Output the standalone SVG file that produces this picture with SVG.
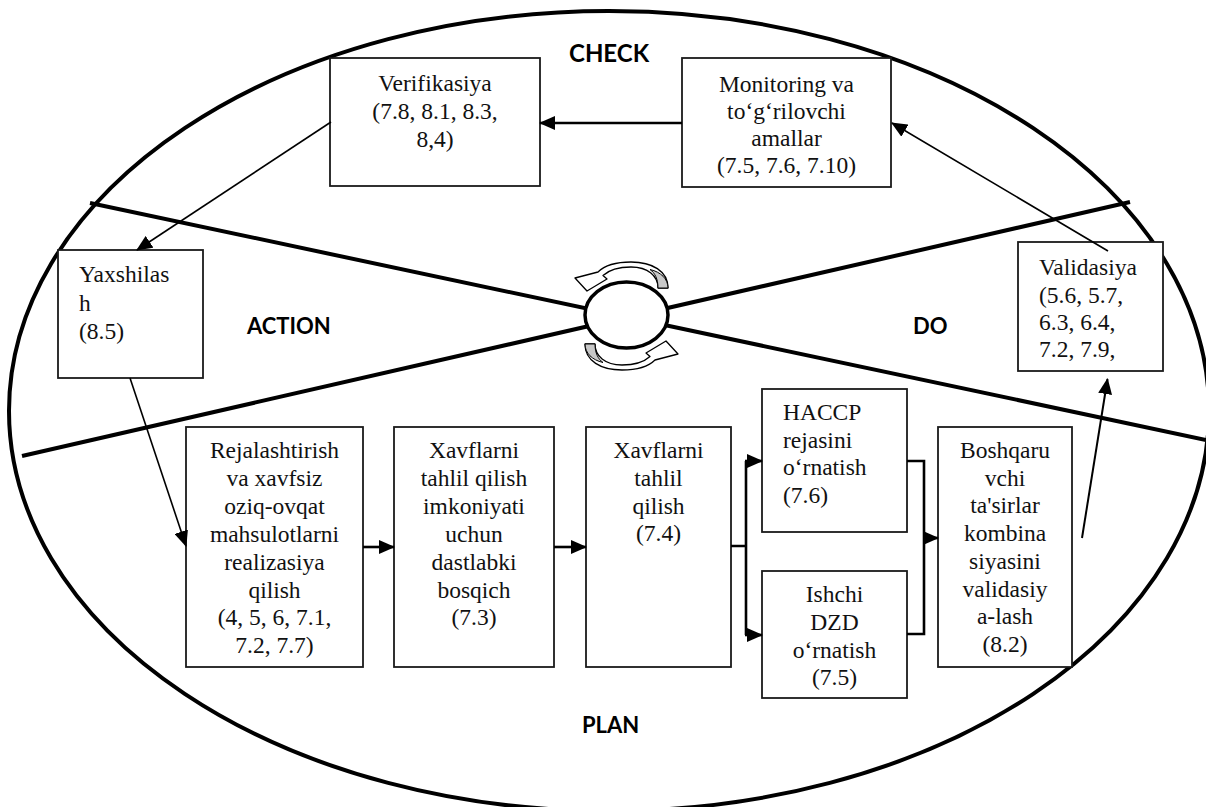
<svg xmlns="http://www.w3.org/2000/svg" xmlns:xlink="http://www.w3.org/1999/xlink" width="1206" height="807" viewBox="0 0 1206 807">
<style>
  .box { fill: #fff; stroke: #1a1a1a; stroke-width: 1.8; }
  .nodetext { font-family: 'Liberation Serif'; font-size: 23.5px; fill: #111; }
  .mid { text-anchor: middle; }
  .lab { font-family: Lato; font-weight: bold; font-size: 22px; fill: #000; }
  .thick { stroke: #000; stroke-width: 2.6; fill: none; }
  .thin { stroke: #000; stroke-width: 1.6; fill: none; }
  .frame { stroke: #000; stroke-width: 4; fill: none; }
</style>
<defs>
  <marker id="ah" viewBox="0 0 16 14" refX="15" refY="7" markerWidth="16" markerHeight="14" markerUnits="userSpaceOnUse" orient="auto">
    <path d="M0,0 L16,7 L0,14 z" fill="#000"/>
  </marker>
  <g id="carrow">
    <path d="M668,288 C668,271 652,262 631,262 C615,262 604,266 598,272 L575,278 L587,291 L607,279 L603,275.5 C609,270 619,267 631,267 C648,267 658,276 658,288 Z" fill="#fff" stroke="#000" stroke-width="1.3" stroke-linejoin="round"/>
    <path d="M658,288 C658,279 655,273 650,269.5 C661,272 668,279 668,288 Z" fill="#c8c8c8" stroke="#000" stroke-width="1"/>
  </g>
</defs>
<rect width="1206" height="807" fill="#fff"/>

<g id="cycle">
  <ellipse class="frame" cx="609" cy="411" rx="600" ry="400"/>
  <line class="frame" x1="90" y1="203" x2="1206" y2="440"/>
  <line class="frame" x1="22" y1="456" x2="1130" y2="202"/>
  <ellipse cx="626.5" cy="315" rx="41.5" ry="33" fill="#fff" stroke="#000" stroke-width="3.5"/>
  <use xlink:href="#carrow" href="#carrow"/>
  <use xlink:href="#carrow" href="#carrow" transform="rotate(180 626.5 316)"/>
  <text class="lab" x="569" y="62" style="font-size:24px">CHECK</text>
  <text class="lab" x="247" y="334">ACTION</text>
  <text class="lab" x="913" y="334">DO</text>
  <text class="lab" x="582" y="733">PLAN</text>
</g>

<g id="node-verifikasiya">
  <rect class="box" x="330" y="58" width="210" height="128"/>
  <text class="nodetext mid" font-family="Liberation Serif"><tspan x="435" y="91">Verifikasiya</tspan><tspan x="435" y="119">(7.8, 8.1, 8.3,</tspan><tspan x="435" y="147">8,4)</tspan></text>
</g>

<g id="node-monitoring">
  <rect class="box" x="682" y="58" width="209" height="129"/>
  <text class="nodetext mid" font-family="Liberation Serif"><tspan x="786.5" y="91.5">Monitoring va</tspan><tspan x="786.5" y="118.8">to‘g‘rilovchi</tspan><tspan x="786.5" y="146">amallar</tspan><tspan x="786.5" y="173.3">(7.5, 7.6, 7.10)</tspan></text>
</g>

<g id="node-yaxshilash">
  <rect class="box" x="58" y="250" width="145" height="128"/>
  <text class="nodetext" font-family="Liberation Serif"><tspan x="79" y="282">Yaxshilas</tspan><tspan x="79" y="310.7">h</tspan><tspan x="79" y="339.3">(8.5)</tspan></text>
</g>

<g id="node-validasiya">
  <rect class="box" x="1018" y="242" width="145" height="129"/>
  <text class="nodetext" font-family="Liberation Serif"><tspan x="1039" y="275">Validasiya</tspan><tspan x="1039" y="302.8">(5.6, 5.7,</tspan><tspan x="1039" y="330">6.3, 6.4,</tspan><tspan x="1039" y="357">7.2, 7.9,</tspan></text>
</g>

<g id="node-rejalashtirish">
  <rect class="box" x="186" y="427" width="177" height="240"/>
  <text class="nodetext mid" font-family="Liberation Serif"><tspan x="274.5" y="458">Rejalashtirish</tspan><tspan x="274.5" y="485.9">va xavfsiz</tspan><tspan x="274.5" y="513.8">oziq-ovqat</tspan><tspan x="274.5" y="541.7">mahsulotlarni</tspan><tspan x="274.5" y="569.6">realizasiya</tspan><tspan x="274.5" y="597.5">qilish</tspan><tspan x="274.5" y="625.4">(4, 5, 6, 7.1,</tspan><tspan x="274.5" y="653.3">7.2, 7.7)</tspan></text>
</g>

<g id="node-dastlabki">
  <rect class="box" x="394" y="427" width="160" height="240"/>
  <text class="nodetext mid" font-family="Liberation Serif"><tspan x="474" y="458">Xavflarni</tspan><tspan x="474" y="485.9">tahlil qilish</tspan><tspan x="474" y="513.8">imkoniyati</tspan><tspan x="474" y="541.7">uchun</tspan><tspan x="474" y="569.6">dastlabki</tspan><tspan x="474" y="597.5">bosqich</tspan><tspan x="474" y="625.4">(7.3)</tspan></text>
</g>

<g id="node-xavf-tahlil">
  <rect class="box" x="586" y="427" width="145" height="240"/>
  <text class="nodetext mid" font-family="Liberation Serif"><tspan x="658.5" y="458.3">Xavflarni</tspan><tspan x="658.5" y="486">tahlil</tspan><tspan x="658.5" y="513.7">qilish</tspan><tspan x="658.5" y="541.4">(7.4)</tspan></text>
</g>

<g id="node-haccp">
  <rect class="box" x="762" y="389" width="145" height="143"/>
  <text class="nodetext" font-family="Liberation Serif"><tspan x="783" y="420">HACCP</tspan><tspan x="783" y="447.7">rejasini</tspan><tspan x="783" y="475.4">o‘rnatish</tspan><tspan x="783" y="503.1">(7.6)</tspan></text>
</g>

<g id="node-ishchi-dzd">
  <rect class="box" x="762" y="571" width="145" height="127"/>
  <text class="nodetext mid" font-family="Liberation Serif"><tspan x="834.5" y="602.3">Ishchi</tspan><tspan x="834.5" y="630">DZD</tspan><tspan x="834.5" y="657.5">o‘rnatish</tspan><tspan x="834.5" y="685">(7.5)</tspan></text>
</g>

<g id="node-boshqaruvchi">
  <rect class="box" x="938" y="427" width="134" height="240"/>
  <text class="nodetext mid" font-family="Liberation Serif"><tspan x="1005" y="458">Boshqaru</tspan><tspan x="1005" y="485.7">vchi</tspan><tspan x="1005" y="513.4">ta'sirlar</tspan><tspan x="1005" y="541.1">kombina</tspan><tspan x="1005" y="568.8">siyasini</tspan><tspan x="1005" y="596.5">validasiy</tspan><tspan x="1005" y="624.2">a-lash</tspan><tspan x="1005" y="651.9">(8.2)</tspan></text>
</g>

<g id="connectors">
  <line class="thick" x1="682" y1="123" x2="540" y2="123" marker-end="url(#ah)"/>
  <line class="thin" x1="331" y1="122" x2="137" y2="250" marker-end="url(#ah)"/>
  <line class="thin" x1="130" y1="378" x2="186" y2="546" marker-end="url(#ah)"/>
  <line class="thick" x1="363" y1="547" x2="394" y2="547" marker-end="url(#ah)"/>
  <line class="thick" x1="554" y1="547" x2="586" y2="547" marker-end="url(#ah)"/>
  <path class="thick" d="M731,546 H746 M746,461 V635"/>
  <line class="thick" x1="745" y1="461" x2="762" y2="461" marker-end="url(#ah)"/>
  <line class="thick" x1="745" y1="635" x2="762" y2="635" marker-end="url(#ah)"/>
  <path class="thick" d="M907,461 H924 V634 H907"/>
  <line class="thick" x1="923" y1="538" x2="938" y2="538" marker-end="url(#ah)"/>
  <line class="thick" style="stroke-width:2" x1="1082" y1="538" x2="1107.5" y2="379" marker-end="url(#ah)"/>
  <line class="thin" x1="1108" y1="251" x2="892" y2="123" marker-end="url(#ah)"/>
</g>
</svg>
